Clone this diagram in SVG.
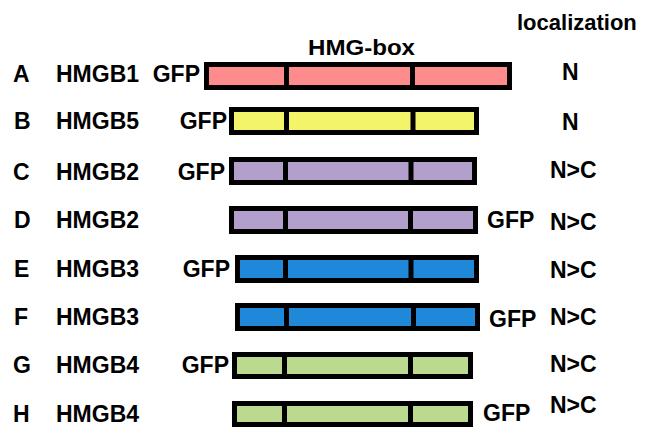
<svg xmlns="http://www.w3.org/2000/svg" width="650" height="427" viewBox="0 0 650 427">
<style>
text{font-family:"Liberation Sans",Arial,sans-serif;font-weight:bold;font-size:23px;fill:#000}
.hdr{font-size:22px}
.bar{stroke:#000;stroke-width:5}
.div{stroke:#000;stroke-width:5}
.pink{fill:#FF8C8C}.yel{fill:#F4F46A}.pur{fill:#B39FCB}.blu{fill:#2088D8}.grn{fill:#BBD98F}
</style>
<rect width="650" height="427" fill="#fff"/>
<text class="hdr" x="517" y="30">localization</text>
<text class="hdr" x="308" y="55" textLength="107" lengthAdjust="spacingAndGlyphs">HMG-box</text>
<g id="rowA">
<text x="13" y="82">A</text><text x="56" y="82">HMGB1</text>
<text x="200" y="82" text-anchor="end">GFP</text>
<rect class="bar pink" x="206.5" y="64.5" width="303" height="23"/>
<line class="div" x1="286.5" y1="64" x2="286.5" y2="88"/><line class="div" x1="412.5" y1="64" x2="412.5" y2="88"/>
<text x="562" y="80">N</text>
</g>
<g id="rowB">
<text x="14" y="129">B</text><text x="56" y="129">HMGB5</text>
<text x="227" y="129" text-anchor="end">GFP</text>
<rect class="bar yel" x="231.5" y="109.5" width="245" height="23"/>
<line class="div" x1="286.5" y1="109" x2="286.5" y2="133"/><line class="div" x1="413" y1="109" x2="413" y2="133"/>
<text x="562" y="130">N</text>
</g>
<g id="rowC">
<text x="13" y="180">C</text><text x="56" y="180">HMGB2</text>
<text x="225" y="180" text-anchor="end">GFP</text>
<rect class="bar pur" x="231.5" y="159.5" width="243" height="23"/>
<line class="div" x1="285.5" y1="159" x2="285.5" y2="183"/><line class="div" x1="411" y1="159" x2="411" y2="183"/>
<text x="550" y="178">N&gt;C</text>
</g>
<g id="rowD">
<text x="14" y="228">D</text><text x="56" y="228">HMGB2</text>
<rect class="bar pur" x="231.5" y="208.5" width="244" height="23"/>
<line class="div" x1="285.5" y1="208" x2="285.5" y2="232"/><line class="div" x1="410.5" y1="208" x2="410.5" y2="232"/>
<text x="487" y="228">GFP</text>
<text x="550" y="230">N&gt;C</text>
</g>
<g id="rowE">
<text x="14" y="277">E</text><text x="56" y="277">HMGB3</text>
<text x="230" y="277" text-anchor="end">GFP</text>
<rect class="bar blu" x="237.5" y="257.5" width="239" height="23"/>
<line class="div" x1="285.5" y1="257" x2="285.5" y2="281"/><line class="div" x1="411" y1="257" x2="411" y2="281"/>
<text x="550" y="278">N&gt;C</text>
</g>
<g id="rowF">
<text x="14" y="325">F</text><text x="56" y="325">HMGB3</text>
<rect class="bar blu" x="237.5" y="305.5" width="240" height="23"/>
<line class="div" x1="286.5" y1="305" x2="286.5" y2="329"/><line class="div" x1="413.5" y1="305" x2="413.5" y2="329"/>
<text x="489" y="327">GFP</text>
<text x="550" y="325">N&gt;C</text>
</g>
<g id="rowG">
<text x="13" y="373">G</text><text x="56" y="373">HMGB4</text>
<text x="229" y="373" text-anchor="end">GFP</text>
<rect class="bar grn" x="234.5" y="354.5" width="236" height="22"/>
<line class="div" x1="284.5" y1="354" x2="284.5" y2="377"/><line class="div" x1="410.5" y1="354" x2="410.5" y2="377"/>
<text x="550" y="372">N&gt;C</text>
</g>
<g id="rowH">
<text x="13" y="422">H</text><text x="56" y="422">HMGB4</text>
<rect class="bar grn" x="234.5" y="403.5" width="236" height="21"/>
<line class="div" x1="284.5" y1="403" x2="284.5" y2="425"/><line class="div" x1="410.5" y1="403" x2="410.5" y2="425"/>
<text x="483" y="421">GFP</text>
<text x="550" y="413">N&gt;C</text>
</g>
<g id="connectors"></g>
</svg>
